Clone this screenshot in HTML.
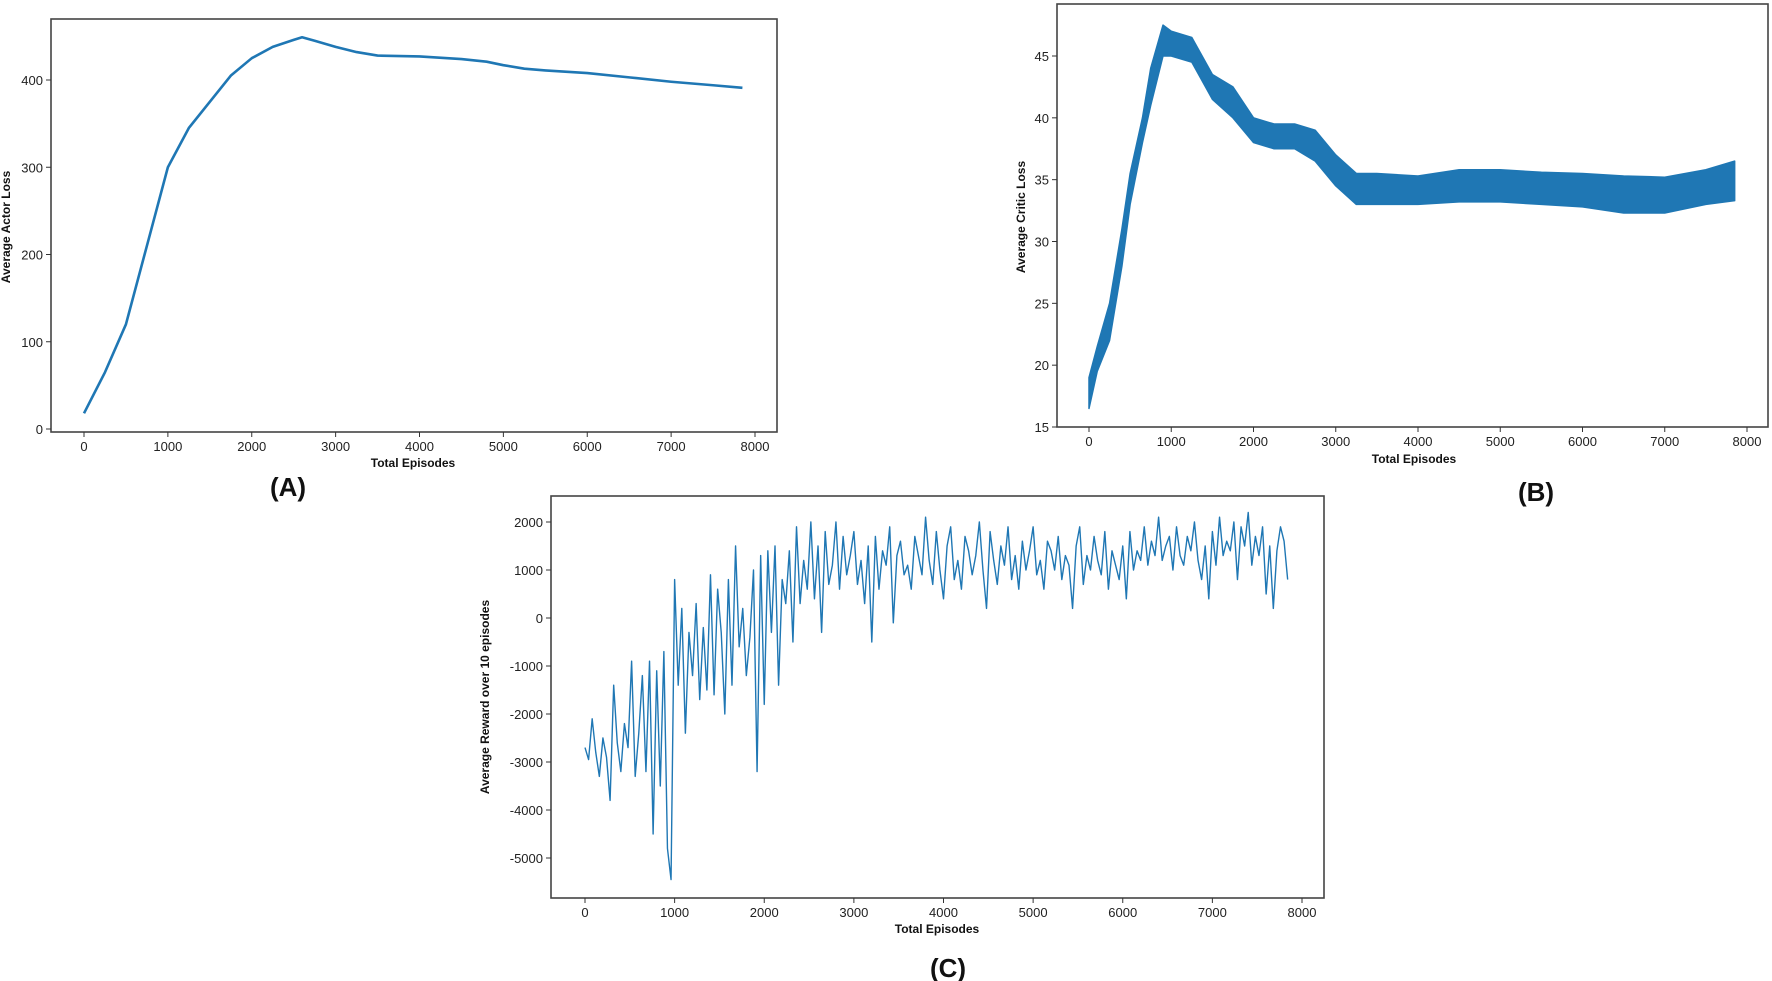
<!DOCTYPE html>
<html><head><meta charset="utf-8">
<style>
html,body{margin:0;padding:0;background:#fff;}
svg{display:block;font-family:"Liberation Sans",sans-serif;}
.tick{font-size:13px;fill:#222;}
.ttl{font-size:12px;font-weight:bold;fill:#111;}
.pl{font-size:26px;font-weight:bold;fill:#111;}
</style></head>
<body>
<svg id="fig" width="1772" height="981" viewBox="0 0 1772 981" xmlns="http://www.w3.org/2000/svg"></svg>
<script>
// ---- Chart A data: Average Actor Loss ----
const aEpisodes=[0,250,500,750,1000,1250,1500,1750,2000,2250,2500,2600,2750,3000,3250,3500,4000,4500,4800,5000,5250,5500,6000,6500,7000,7500,7850];
const aLoss=[18,65,120,210,300,345,375,405,425,438,446,449,445,438,432,428,427,424,421,417,413,411,408,403,398,394,391];
const aYTicks=[0,100,200,300,400];
// ---- Chart B data: Average Critic Loss (noise band) ----
const bEpisodes=[0,100,250,400,500,650,750,900,1000,1250,1500,1750,2000,2250,2500,2750,3000,3250,3500,4000,4500,5000,5500,6000,6500,7000,7500,7850];
const bLow=[16.5,19.5,22,28,33,38,41,45,45,44.5,41.5,40,38,37.5,37.5,36.5,34.5,33,33,33,33.2,33.2,33,32.8,32.3,32.3,33,33.3];
const bHigh=[19,21.5,25,31,35.5,40,44,47.5,47,46.5,43.5,42.5,40,39.5,39.5,39,37,35.5,35.5,35.3,35.8,35.8,35.6,35.5,35.3,35.2,35.8,36.5];
const bYTicks=[15,20,25,30,35,40,45];
// ---- Chart C data: Average Reward over 10 episodes (step 40 episodes) ----
const cStep=40;
const cReward=[-2700,-2950,-2100,-2800,-3300,-2500,-2900,-3800,-1400,-2600,-3200,-2200,-2700,-900,-3300,-2400,-1200,-3200,-900,-4500,-1100,-3500,-700,-4800,-5450,
800,-1400,200,-2400,-300,-1200,300,-1700,-200,-1500,900,-1600,600,-300,-2000,800,-1400,1500,-600,200,-1200,-400,1000,-3200,1300,
-1800,1400,-300,1500,-1400,800,300,1400,-500,1900,300,1200,600,2000,400,1500,-300,1800,700,1100,2000,600,1700,900,1300,
1800,700,1200,300,1500,-500,1700,600,1400,1100,1900,-100,1300,1600,900,1100,600,1700,1300,900,2100,1200,700,1800,1000,
400,1500,1900,800,1200,600,1700,1400,900,1300,2000,1000,200,1800,1200,700,1500,1100,1900,800,1300,600,1600,1000,1400,
1900,900,1200,600,1600,1400,1000,1700,800,1300,1100,200,1500,1900,700,1300,1000,1700,1200,900,1800,600,1400,1100,800,
1500,400,1800,1000,1400,1200,1900,1100,1600,1300,2100,1200,1500,1700,1000,1900,1300,1100,1700,1400,2000,1200,800,1500,400,
1800,1100,2100,1300,1600,1400,2000,800,1900,1500,2200,1100,1700,1300,1900,500,1500,200,1400,1900,1600,800];
const cYTicks=[-5000,-4000,-3000,-2000,-1000,0,1000,2000];
const xTicks=[0,1000,2000,3000,4000,5000,6000,7000,8000];

const NS="http://www.w3.org/2000/svg";
const svg=document.getElementById('fig');
function mk(tag,attrs,parent){const e=document.createElementNS(NS,tag);for(const k in attrs)e.setAttribute(k,attrs[k]);(parent||svg).appendChild(e);return e;}
function scale(d0,d1,r0,r1){return v=>r0+(v-d0)*(r1-r0)/(d1-d0);}

function axes(cfg){
  const g=mk('g',{});
  
  
  const fr=mk('rect',{x:cfg.L,y:cfg.T,width:cfg.R-cfg.L,height:cfg.B-cfg.T,fill:'none',stroke:'#444','stroke-width':1.6},g);
  
  
  xTicks.forEach(t=>{const x=cfg.sx(t);
    mk('line',{x1:x,x2:x,y1:cfg.B,y2:cfg.B+5,stroke:'#333'},g);
    const tx=mk('text',{x:x,y:cfg.B+19,'text-anchor':'middle',class:'tick'},g);tx.textContent=t;
    
    });
  cfg.yt.forEach(t=>{const y=cfg.sy(t);
    mk('line',{x1:cfg.L-5,x2:cfg.L,y1:y,y2:y,stroke:'#333'},g);
    const tx=mk('text',{x:cfg.L-8,y:y+5,'text-anchor':'end',class:'tick'},g);tx.textContent=t;
    
    });
  const xt=mk('text',{x:cfg.xtx,y:cfg.xty,'text-anchor':'middle',class:'ttl'},g);xt.textContent='Total Episodes';
  
  
  const yt=mk('text',{x:0,y:0,'text-anchor':'middle',class:'ttl',transform:`translate(${cfg.ytx},${cfg.yty}) rotate(-90)`},g);yt.textContent=cfg.ylabel;
  
  
  const pl=mk('text',{x:cfg.plx,y:cfg.ply,'text-anchor':'middle',class:'pl'},g);pl.textContent=cfg.panel;
  
  
  return g;
}

// Chart A
const A={name:'chart-a-actor-loss',L:51,T:19,R:777,B:432,sx:scale(0,8000,84,755),sy:scale(0,400,429,80),yt:aYTicks,
  xtx:413,xty:467,ytx:10,yty:227,ylabel:'Average Actor Loss',panel:'(A)',plx:288,ply:496};
const gA=axes(A);
const pA=mk('polyline',{points:aEpisodes.map((e,i)=>A.sx(e)+','+A.sy(aLoss[i])).join(' '),fill:'none',stroke:'#1f77b4','stroke-width':2.6,'stroke-linejoin':'round'},gA);



// Chart B
const Bc={name:'chart-b-critic-loss',L:1057,T:4,R:1768,B:427,sx:scale(0,8000,1089,1747),sy:scale(15,45,427,56),yt:bYTicks,
  xtx:1414,xty:463,ytx:1025,yty:217,ylabel:'Average Critic Loss',panel:'(B)',plx:1536,ply:501};
const gB=axes(Bc);
const bandPts=bEpisodes.map((e,i)=>Bc.sx(e)+','+Bc.sy(bHigh[i])).concat(bEpisodes.map((e,i)=>Bc.sx(e)+','+Bc.sy(bLow[i])).reverse()).join(' ');
const pB=mk('polygon',{points:bandPts,fill:'#1f77b4',stroke:'#1f77b4','stroke-width':1.5,'stroke-linejoin':'round'},gB);



// Chart C
const C={name:'chart-c-average-reward',L:551,T:496,R:1324,B:898,sx:scale(0,8000,585,1302),sy:scale(-5000,2000,858,522),yt:cYTicks,
  xtx:937,xty:933,ytx:489,yty:697,ylabel:'Average Reward over 10 episodes',panel:'(C)',plx:948,ply:977};
const gC=axes(C);
const pC=mk('polyline',{points:cReward.map((v,i)=>C.sx(i*cStep)+','+C.sy(v)).join(' '),fill:'none',stroke:'#1f77b4','stroke-width':1.4,'stroke-linejoin':'round'},gC);


</script>
</body></html>
